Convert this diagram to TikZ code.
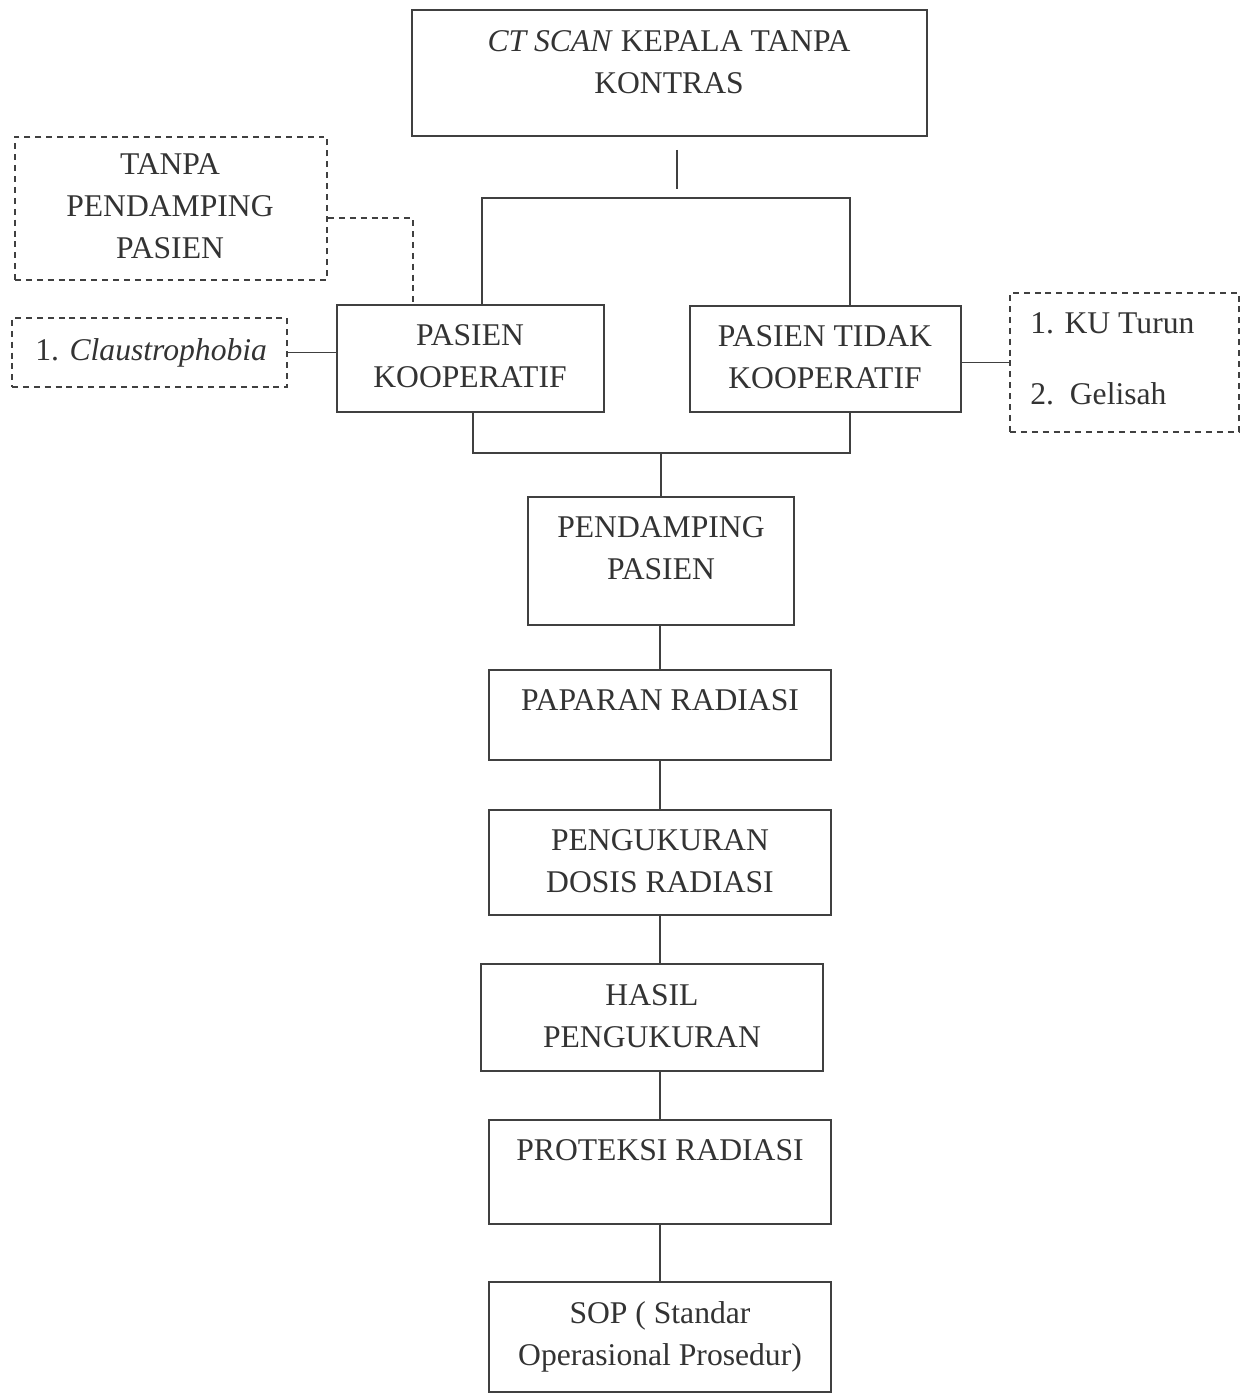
\documentclass[tikz,border=0pt]{standalone}
\usepackage{fontspec}
\setmainfont{Liberation Serif}
\usetikzlibrary{fit}
\newcommand{\boxfont}{\fontsize{18}{24}\selectfont}
\tikzset{
	box/.style={draw=black!75, line width=1.1pt, inner sep=0pt},
	dbox/.style={box, dash pattern=on 3.4pt off 2.8pt},
	txt/.style={font=\boxfont, text=black!80, align=center, inner sep=0pt},
	ln/.style={draw=black!75, line width=1.1pt},
	dln/.style={ln, dash pattern=on 3.4pt off 2.8pt},
}

\begin{document}
\begin{tikzpicture}[x=0.02cm, y=-0.02cm]
			\useasboundingbox (0,0) rectangle (1241,1395);
			%	\draw[very thin,densely dashed] (0,0) grid[step=50] (1241,1395);
			% boxes
			\node[box, fit={(412,10) (927,136)}] (CT) {};
			\node[dbox, fit={(15,137) (327,280)}] (TP) {};
			\node[dbox, fit={(12,318) (287,387)}] (CL) {};
			\node[box, fit={(337,305) (604,412)}] (PK) {};
			\node[box, fit={(690,306) (961,412)}] (PTK) {};
			\node[dbox, fit={(1010,293) (1239,432)}] (KU) {};
			\node[box, fit={(528,497) (794,625)}] (PP) {};
			\node[box, fit={(489,670) (831,760)}] (PR) {};
			\node[box, fit={(489,810) (831,915)}] (PDR) {};
			\node[box, fit={(481,964) (823,1071)}] (HP) {};
			\node[box, fit={(489,1120) (831,1224)}] (PRR) {};
			\node[box, fit={(489,1282) (831,1392)}] (SOP) {};
			% texts
			\node[txt] (CTt) at (669,62) {\textit{CT SCAN} KEPALA TANPA\\KONTRAS};
			\node[txt] (TPt) at (170,206) {TANPA\\PENDAMPING\\PASIEN};
			\node[txt, anchor=base west] (CLt) at (35,360) {1. \textit{Claustrophobia}};
			\node[txt] (PKt) at (470,356) {PASIEN\\KOOPERATIF};
			\node[txt] (PTKt) at (825,357) {PASIEN TIDAK\\KOOPERATIF};
			\node[txt, anchor=base west] (KU1) at (1030,334) {1. KU Turun};
			\node[txt, anchor=base west] (KU2) at (1030,404) {2.\ \ Gelisah};
			\node[txt] (PPt) at (661,548) {PENDAMPING\\PASIEN};
			\node[txt] (PRt) at (660,700) {PAPARAN RADIASI};
			\node[txt] (PDRt) at (660,861) {PENGUKURAN\\DOSIS RADIASI};
			\node[txt] (HPt) at (652,1016) {HASIL\\PENGUKURAN};
			\node[txt] (PRRt) at (660,1150) {PROTEKSI RADIASI};
			\node[txt] (SOPt) at (660,1337) {SOP ( Standar\\Operasional Prosedur)};
			% joints
			\coordinate (s1) at (677,150);
			\coordinate (s2) at (677,189);
			\coordinate (bl) at (482,198);
			\coordinate (br) at (850,198);
			\coordinate (jl) at (473,453);
			\coordinate (jr) at (850,453);
			\coordinate (dc) at (413,218);
			% connectors
			\draw[ln] (s1) -- (s2);
			\draw[ln] (PK.north -| bl) -- (bl) -- (br) -- (PTK.north -| br);
			\draw[ln] (PK.south -| jl) -- (jl) -- (jr) -- (PTK.south -| jr);
			\draw[ln] (PP.north |- jl) -- (PP.north);
			\draw[dln] (TP.east |- dc) -- (dc) -- (PK.north -| dc);
			\draw[ln] (CL.east) -- (CL.east -| PK.west);
			\draw[ln] (KU.west -| PTK.east) -- (KU.west);
			\foreach \a/\b in {PP/PR, PR/PDR, PDR/HP, HP/PRR, PRR/SOP}
				\draw[ln] (\a.south -| PR.north) -- (\b.north -| PR.north);
		\end{tikzpicture}
\end{document}
